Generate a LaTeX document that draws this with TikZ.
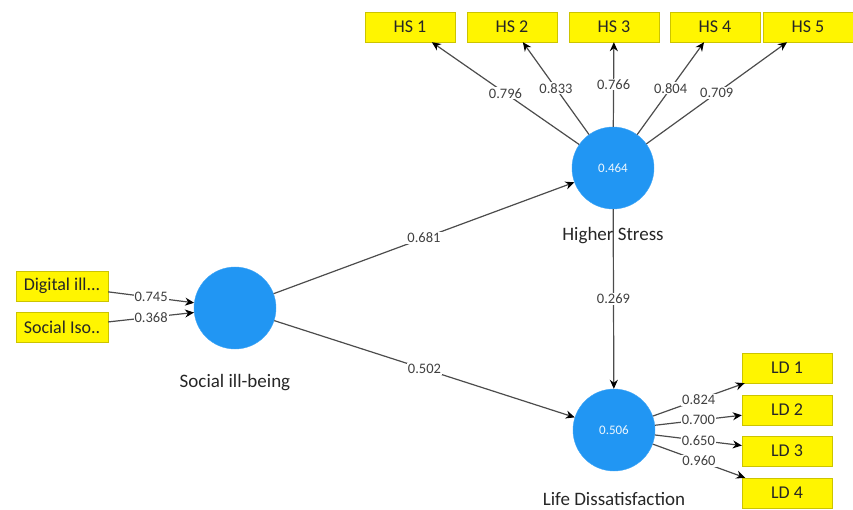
\documentclass[tikz,border=0pt]{standalone}
\usepackage{fontspec}
\setmainfont{Carlito}
\usetikzlibrary{positioning, arrows.meta}
\definecolor{lvblue}{RGB}{33,150,243}
\definecolor{mvyellow}{RGB}{255,245,0}

\begin{document}
\begin{tikzpicture}[x=1pt, y=-1pt,
    lv/.style={circle, fill=lvblue, draw=lvblue!85!white, minimum size=82pt, inner sep=0pt,
               text=white!92!lvblue, font=\fontsize{13}{15}\selectfont},
    mv/.style={rectangle, fill=mvyellow, draw=mvyellow!80!black, minimum width=90pt,
               minimum height=30pt, font=\fontsize{18}{20}\selectfont, text=black!85},
    lvname/.style={font=\fontsize{19}{21}\selectfont, text=black!85},
    pathline/.style={->, >={Stealth[length=9pt,width=8pt,black]}, draw=black!70, line width=1.2pt},
    coef/.style={fill=white, inner sep=1pt, font=\fontsize{14.5}{16}\selectfont, text=black!75}]

    \useasboundingbox (0,0) rectangle (853,510);

    % Nodes
    \node[lv] (sib) at (235,308) {};
    \node[lv] (hs) at (613,168) {0.464};
    \node[lv] (ld) at (614,430) {0.506};

    \node[lvname, below=22pt of sib] (sibname) {Social ill-being};
    \node[lvname, below=15pt of hs] (hsname) {Higher Stress};
    \node[lvname, below=18pt of ld] (ldname) {Life Dissatisfaction};

    \node[mv, minimum width=92pt] (dig) at (62,286) {Digital ill...};
    \node[mv, minimum width=92pt] (iso) at (62,327) {Social Iso..};

    % indicators of Higher Stress
    \foreach \i/\x/\w in {1/410/0.796, 2/512/0.833, 3/614/0.766, 4/715/0.804, 5/808/0.709} {
        \node[mv] (hs\i) at (\x,27) {HS \i};
        \draw[pathline] (hs) -- node[coef] {\w} (hs\i);
    }

    % indicators of Life Dissatisfaction
    \foreach \i/\y/\w in {1/368/0.824, 2/410/0.700, 3/451/0.650, 4/493/0.960} {
        \node[mv] (ld\i) at (787,\y) {LD \i};
        \draw[pathline] (ld) -- node[coef] {\w} (ld\i);
    }

    % Edges
    \draw[pathline] (dig) -- node[coef] {0.745} (sib);
    \draw[pathline] (iso) -- node[coef] {0.368} (sib);
    \draw[pathline] (sib) -- node[coef] {0.681} (hs);
    \draw[pathline] (sib) -- node[coef] {0.502} (ld);
    \draw[pathline] (hs) -- node[coef] {0.269} (ld);
\end{tikzpicture}
\end{document}
